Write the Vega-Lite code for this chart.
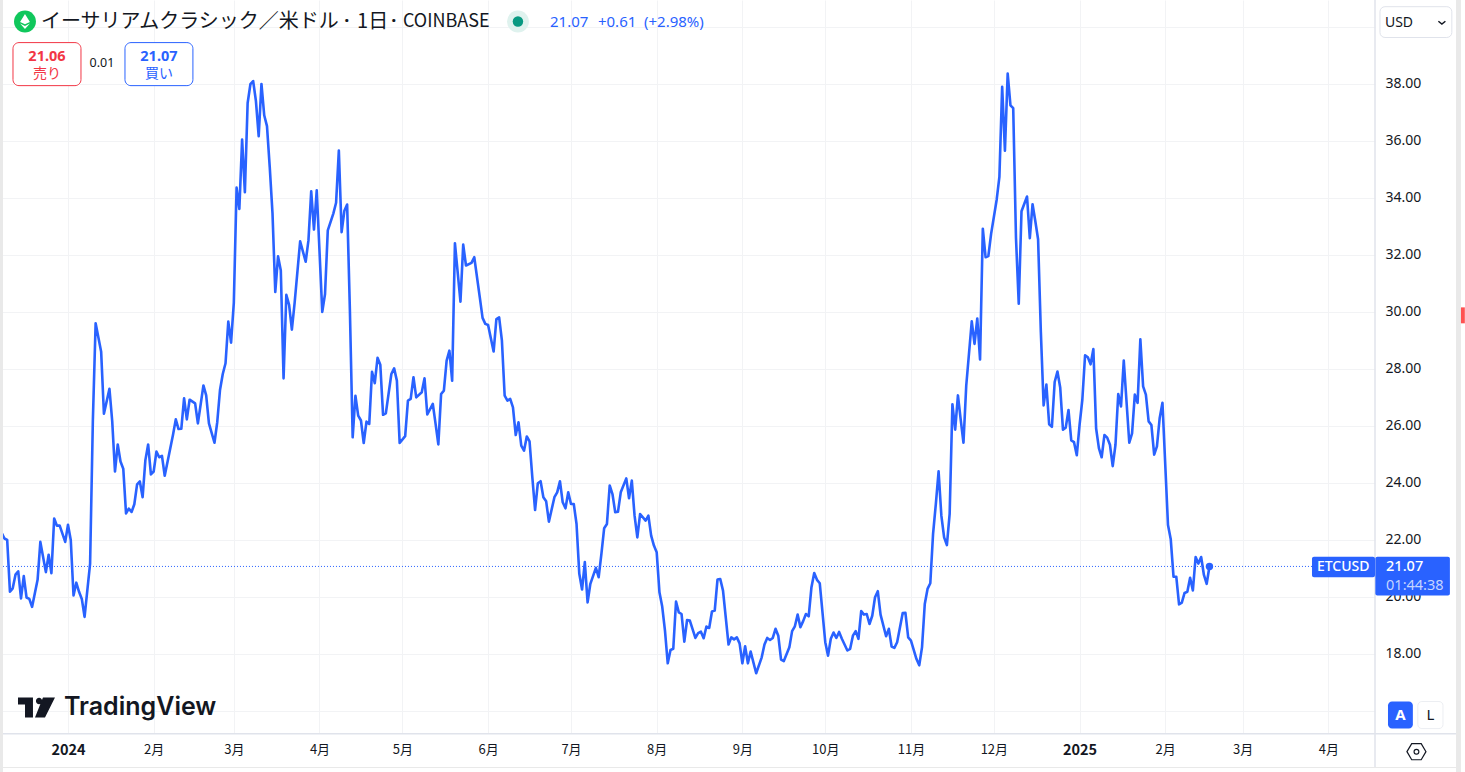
{
"$schema":"https://vega.github.io/schema/vega-lite/v6.json",
"width":1375,"height":733,
"autosize":{"type":"none"},
"padding":{"left":0,"top":0,"right":90,"bottom":39},
"background":"#ffffff",
"view":{"stroke":null},
"config":{"font":"Noto Sans"},
"datasets":{"prices":[
{"t":"2023-12-08","p":22.25},{"t":"2023-12-09","p":22.05},{"t":"2023-12-10","p":22.0},{"t":"2023-12-11","p":20.18},{"t":"2023-12-12","p":20.3},{"t":"2023-12-13","p":20.78},{"t":"2023-12-14","p":20.9},{"t":"2023-12-15","p":19.95},{"t":"2023-12-16","p":20.73},{"t":"2023-12-17","p":19.98},{"t":"2023-12-18","p":19.93},{"t":"2023-12-19","p":19.65},{"t":"2023-12-21","p":20.6},{"t":"2023-12-22","p":21.93},{"t":"2023-12-24","p":20.87},{"t":"2023-12-25","p":21.48},{"t":"2023-12-26","p":20.83},{"t":"2023-12-27","p":22.75},{"t":"2023-12-28","p":22.5},{"t":"2023-12-29","p":22.5},{"t":"2023-12-31","p":21.93},
{"t":"2024-01-01","p":22.53},{"t":"2024-01-02","p":22.0},{"t":"2024-01-03","p":20.05},{"t":"2024-01-04","p":20.5},{"t":"2024-01-05","p":20.18},{"t":"2024-01-06","p":19.93},{"t":"2024-01-07","p":19.3},{"t":"2024-01-09","p":21.17},{"t":"2024-01-10","p":26.2},{"t":"2024-01-11","p":29.6},{"t":"2024-01-13","p":28.6},{"t":"2024-01-14","p":26.43},{"t":"2024-01-16","p":27.3},{"t":"2024-01-17","p":26.17},{"t":"2024-01-18","p":24.4},{"t":"2024-01-19","p":25.35},{"t":"2024-01-20","p":24.75},{"t":"2024-01-21","p":24.5},{"t":"2024-01-22","p":22.93},{"t":"2024-01-23","p":23.1},{"t":"2024-01-24","p":22.98},{"t":"2024-01-25","p":23.25},{"t":"2024-01-26","p":23.95},{"t":"2024-01-27","p":24.05},{"t":"2024-01-28","p":23.5},{"t":"2024-01-29","p":24.8},{"t":"2024-01-30","p":25.35},{"t":"2024-01-31","p":24.3},
{"t":"2024-02-01","p":24.4},{"t":"2024-02-02","p":25.1},{"t":"2024-02-03","p":24.9},{"t":"2024-02-04","p":24.95},{"t":"2024-02-05","p":24.25},{"t":"2024-02-08","p":25.69},{"t":"2024-02-09","p":26.23},{"t":"2024-02-10","p":25.89},{"t":"2024-02-11","p":25.9},{"t":"2024-02-12","p":26.97},{"t":"2024-02-13","p":26.23},{"t":"2024-02-14","p":26.92},{"t":"2024-02-16","p":26.79},{"t":"2024-02-17","p":26.09},{"t":"2024-02-19","p":27.42},{"t":"2024-02-20","p":27.07},{"t":"2024-02-21","p":26.09},{"t":"2024-02-23","p":25.41},{"t":"2024-02-24","p":26.13},{"t":"2024-02-25","p":27.26},{"t":"2024-02-26","p":27.82},{"t":"2024-02-27","p":28.2},{"t":"2024-02-28","p":29.66},{"t":"2024-02-29","p":28.92},
{"t":"2024-03-01","p":30.32},{"t":"2024-03-02","p":34.36},{"t":"2024-03-03","p":33.61},{"t":"2024-03-04","p":36.05},{"t":"2024-03-05","p":34.2},{"t":"2024-03-06","p":37.33},{"t":"2024-03-07","p":37.99},{"t":"2024-03-08","p":38.1},{"t":"2024-03-09","p":37.4},{"t":"2024-03-10","p":36.17},{"t":"2024-03-11","p":38.0},{"t":"2024-03-12","p":36.9},{"t":"2024-03-13","p":36.52},{"t":"2024-03-14","p":35.08},{"t":"2024-03-15","p":33.45},{"t":"2024-03-16","p":30.7},{"t":"2024-03-17","p":31.95},{"t":"2024-03-18","p":31.45},{"t":"2024-03-19","p":27.67},{"t":"2024-03-20","p":30.6},{"t":"2024-03-21","p":30.25},{"t":"2024-03-22","p":29.38},{"t":"2024-03-23","p":30.32},{"t":"2024-03-25","p":32.48},{"t":"2024-03-27","p":31.76},{"t":"2024-03-28","p":32.51},{"t":"2024-03-29","p":34.23},{"t":"2024-03-30","p":32.89},{"t":"2024-03-31","p":34.27},
{"t":"2024-04-02","p":30.0},{"t":"2024-04-03","p":30.63},{"t":"2024-04-04","p":32.86},{"t":"2024-04-06","p":33.45},{"t":"2024-04-07","p":33.83},{"t":"2024-04-08","p":35.66},{"t":"2024-04-09","p":32.8},{"t":"2024-04-10","p":33.55},{"t":"2024-04-11","p":33.77},{"t":"2024-04-12","p":30.05},{"t":"2024-04-13","p":25.6},{"t":"2024-04-14","p":27.06},{"t":"2024-04-15","p":26.36},{"t":"2024-04-16","p":26.19},{"t":"2024-04-17","p":25.4},{"t":"2024-04-18","p":26.15},{"t":"2024-04-19","p":26.07},{"t":"2024-04-20","p":27.9},{"t":"2024-04-21","p":27.5},{"t":"2024-04-22","p":28.39},{"t":"2024-04-23","p":28.15},{"t":"2024-04-24","p":26.39},{"t":"2024-04-25","p":26.44},{"t":"2024-04-27","p":27.82},{"t":"2024-04-28","p":28.02},{"t":"2024-04-29","p":27.59},{"t":"2024-04-30","p":25.4},
{"t":"2024-05-02","p":25.64},{"t":"2024-05-03","p":26.89},{"t":"2024-05-04","p":26.95},{"t":"2024-05-05","p":27.71},{"t":"2024-05-06","p":27.0},{"t":"2024-05-08","p":27.18},{"t":"2024-05-09","p":27.67},{"t":"2024-05-10","p":26.4},{"t":"2024-05-12","p":26.77},{"t":"2024-05-13","p":26.07},{"t":"2024-05-14","p":25.35},{"t":"2024-05-15","p":27.12},{"t":"2024-05-16","p":27.24},{"t":"2024-05-17","p":28.29},{"t":"2024-05-18","p":28.64},{"t":"2024-05-19","p":27.59},{"t":"2024-05-20","p":32.41},{"t":"2024-05-22","p":30.36},{"t":"2024-05-23","p":32.36},{"t":"2024-05-24","p":31.63},{"t":"2024-05-26","p":31.72},{"t":"2024-05-27","p":31.92},{"t":"2024-05-29","p":30.51},{"t":"2024-05-30","p":29.79},{"t":"2024-05-31","p":29.58},
{"t":"2024-06-01","p":29.54},{"t":"2024-06-03","p":28.61},{"t":"2024-06-04","p":29.75},{"t":"2024-06-05","p":29.81},{"t":"2024-06-06","p":28.99},{"t":"2024-06-07","p":27.06},{"t":"2024-06-08","p":26.89},{"t":"2024-06-09","p":26.95},{"t":"2024-06-10","p":26.65},{"t":"2024-06-11","p":25.68},{"t":"2024-06-12","p":26.13},{"t":"2024-06-13","p":25.31},{"t":"2024-06-14","p":25.13},{"t":"2024-06-15","p":25.63},{"t":"2024-06-16","p":25.46},{"t":"2024-06-17","p":24.2},{"t":"2024-06-18","p":23.05},{"t":"2024-06-19","p":23.99},{"t":"2024-06-20","p":24.06},{"t":"2024-06-21","p":23.5},{"t":"2024-06-22","p":23.36},{"t":"2024-06-23","p":22.64},{"t":"2024-06-25","p":23.5},{"t":"2024-06-26","p":23.67},{"t":"2024-06-27","p":24.06},{"t":"2024-06-28","p":23.32},{"t":"2024-06-29","p":23.11},{"t":"2024-06-30","p":23.67},
{"t":"2024-07-01","p":23.26},{"t":"2024-07-02","p":23.26},{"t":"2024-07-03","p":22.56},{"t":"2024-07-04","p":20.81},{"t":"2024-07-05","p":20.26},{"t":"2024-07-06","p":21.22},{"t":"2024-07-07","p":19.81},{"t":"2024-07-08","p":20.46},{"t":"2024-07-10","p":21.02},{"t":"2024-07-11","p":20.69},{"t":"2024-07-12","p":21.51},{"t":"2024-07-13","p":22.41},{"t":"2024-07-14","p":22.56},{"t":"2024-07-15","p":23.91},{"t":"2024-07-16","p":23.61},{"t":"2024-07-17","p":22.97},{"t":"2024-07-18","p":22.99},{"t":"2024-07-19","p":23.67},{"t":"2024-07-21","p":24.16},{"t":"2024-07-22","p":23.46},{"t":"2024-07-23","p":24.08},{"t":"2024-07-24","p":22.85},{"t":"2024-07-25","p":22.09},{"t":"2024-07-26","p":22.91},{"t":"2024-07-28","p":22.68},{"t":"2024-07-29","p":22.85},{"t":"2024-07-30","p":22.15},{"t":"2024-07-31","p":21.8},
{"t":"2024-08-01","p":21.57},{"t":"2024-08-02","p":20.16},{"t":"2024-08-03","p":19.66},{"t":"2024-08-04","p":18.82},{"t":"2024-08-05","p":17.67},{"t":"2024-08-06","p":18.14},{"t":"2024-08-07","p":18.18},{"t":"2024-08-08","p":19.84},{"t":"2024-08-09","p":19.46},{"t":"2024-08-10","p":19.4},{"t":"2024-08-11","p":18.43},{"t":"2024-08-12","p":19.19},{"t":"2024-08-13","p":19.17},{"t":"2024-08-15","p":18.56},{"t":"2024-08-16","p":18.73},{"t":"2024-08-17","p":18.78},{"t":"2024-08-18","p":18.55},{"t":"2024-08-19","p":18.96},{"t":"2024-08-20","p":18.91},{"t":"2024-08-21","p":19.49},{"t":"2024-08-22","p":19.52},{"t":"2024-08-23","p":20.61},{"t":"2024-08-24","p":20.63},{"t":"2024-08-25","p":20.22},{"t":"2024-08-27","p":18.33},{"t":"2024-08-28","p":18.58},{"t":"2024-08-29","p":18.51},{"t":"2024-08-30","p":18.58},{"t":"2024-08-31","p":18.37},
{"t":"2024-09-01","p":17.67},{"t":"2024-09-02","p":18.27},{"t":"2024-09-03","p":17.67},{"t":"2024-09-04","p":18.08},{"t":"2024-09-06","p":17.32},{"t":"2024-09-08","p":17.88},{"t":"2024-09-09","p":18.33},{"t":"2024-09-10","p":18.56},{"t":"2024-09-11","p":18.49},{"t":"2024-09-12","p":18.56},{"t":"2024-09-13","p":18.88},{"t":"2024-09-14","p":18.64},{"t":"2024-09-15","p":17.8},{"t":"2024-09-16","p":17.75},{"t":"2024-09-18","p":18.23},{"t":"2024-09-19","p":18.8},{"t":"2024-09-20","p":18.97},{"t":"2024-09-21","p":19.38},{"t":"2024-09-22","p":18.94},{"t":"2024-09-23","p":19.15},{"t":"2024-09-24","p":19.4},{"t":"2024-09-25","p":19.32},{"t":"2024-09-26","p":20.34},{"t":"2024-09-27","p":20.84},{"t":"2024-09-28","p":20.6},{"t":"2024-09-29","p":20.48},
{"t":"2024-10-01","p":18.41},{"t":"2024-10-02","p":17.94},{"t":"2024-10-03","p":18.53},{"t":"2024-10-04","p":18.75},{"t":"2024-10-05","p":18.56},{"t":"2024-10-06","p":18.77},{"t":"2024-10-07","p":18.53},{"t":"2024-10-09","p":18.12},{"t":"2024-10-10","p":18.18},{"t":"2024-10-11","p":18.64},{"t":"2024-10-12","p":18.8},{"t":"2024-10-13","p":18.53},{"t":"2024-10-14","p":19.5},{"t":"2024-10-15","p":19.38},{"t":"2024-10-16","p":19.4},{"t":"2024-10-17","p":19.05},{"t":"2024-10-18","p":19.34},{"t":"2024-10-19","p":19.99},{"t":"2024-10-20","p":20.2},{"t":"2024-10-21","p":19.38},{"t":"2024-10-23","p":18.62},{"t":"2024-10-24","p":18.88},{"t":"2024-10-25","p":18.26},{"t":"2024-10-26","p":18.21},{"t":"2024-10-27","p":18.41},{"t":"2024-10-29","p":19.43},{"t":"2024-10-30","p":19.44},{"t":"2024-10-31","p":18.58},
{"t":"2024-11-01","p":18.47},{"t":"2024-11-03","p":17.82},{"t":"2024-11-04","p":17.6},{"t":"2024-11-05","p":18.23},{"t":"2024-11-06","p":19.75},{"t":"2024-11-07","p":20.28},{"t":"2024-11-08","p":20.48},{"t":"2024-11-09","p":22.21},{"t":"2024-11-10","p":23.26},{"t":"2024-11-11","p":24.41},{"t":"2024-11-12","p":22.85},{"t":"2024-11-13","p":22.09},{"t":"2024-11-14","p":21.82},{"t":"2024-11-15","p":22.91},{"t":"2024-11-16","p":26.76},{"t":"2024-11-17","p":25.87},{"t":"2024-11-18","p":27.07},{"t":"2024-11-19","p":26.22},{"t":"2024-11-20","p":25.41},{"t":"2024-11-21","p":27.41},{"t":"2024-11-23","p":29.67},{"t":"2024-11-24","p":28.88},{"t":"2024-11-25","p":29.77},{"t":"2024-11-26","p":28.33},{"t":"2024-11-27","p":32.92},{"t":"2024-11-28","p":31.92},{"t":"2024-11-29","p":31.96},{"t":"2024-11-30","p":32.74},
{"t":"2024-12-02","p":33.93},{"t":"2024-12-03","p":34.74},{"t":"2024-12-04","p":37.9},{"t":"2024-12-05","p":35.66},{"t":"2024-12-06","p":38.36},{"t":"2024-12-07","p":37.25},{"t":"2024-12-08","p":37.15},{"t":"2024-12-09","p":32.6},{"t":"2024-12-10","p":30.29},{"t":"2024-12-11","p":33.53},{"t":"2024-12-13","p":34.05},{"t":"2024-12-14","p":32.59},{"t":"2024-12-15","p":33.78},{"t":"2024-12-16","p":33.18},{"t":"2024-12-17","p":32.55},{"t":"2024-12-18","p":29.29},{"t":"2024-12-19","p":26.72},{"t":"2024-12-20","p":27.45},{"t":"2024-12-21","p":26.06},{"t":"2024-12-22","p":25.97},{"t":"2024-12-23","p":27.54},{"t":"2024-12-24","p":27.91},{"t":"2024-12-25","p":27.35},{"t":"2024-12-26","p":25.87},{"t":"2024-12-27","p":25.94},{"t":"2024-12-28","p":26.56},{"t":"2024-12-29","p":25.49},{"t":"2024-12-30","p":25.43},{"t":"2024-12-31","p":24.97},
{"t":"2025-01-01","p":26.03},{"t":"2025-01-02","p":26.91},{"t":"2025-01-03","p":28.48},{"t":"2025-01-04","p":28.41},{"t":"2025-01-05","p":28.16},{"t":"2025-01-06","p":28.7},{"t":"2025-01-07","p":25.91},{"t":"2025-01-08","p":25.22},{"t":"2025-01-09","p":24.9},{"t":"2025-01-10","p":25.68},{"t":"2025-01-11","p":25.59},{"t":"2025-01-12","p":25.34},{"t":"2025-01-13","p":24.59},{"t":"2025-01-14","p":25.34},{"t":"2025-01-15","p":27.12},{"t":"2025-01-16","p":26.68},{"t":"2025-01-17","p":28.29},{"t":"2025-01-19","p":25.41},{"t":"2025-01-20","p":25.74},{"t":"2025-01-21","p":27.1},{"t":"2025-01-22","p":26.81},{"t":"2025-01-23","p":29.04},{"t":"2025-01-24","p":27.39},{"t":"2025-01-25","p":27.1},{"t":"2025-01-26","p":26.16},{"t":"2025-01-27","p":26.03},{"t":"2025-01-28","p":24.99},{"t":"2025-01-29","p":25.28},{"t":"2025-01-30","p":26.28},{"t":"2025-01-31","p":26.81},
{"t":"2025-02-02","p":22.52},{"t":"2025-02-03","p":22.02},{"t":"2025-02-04","p":20.71},{"t":"2025-02-05","p":20.71},{"t":"2025-02-06","p":19.74},{"t":"2025-02-07","p":19.8},{"t":"2025-02-08","p":20.14},{"t":"2025-02-09","p":20.18},{"t":"2025-02-10","p":20.67},{"t":"2025-02-11","p":20.23},{"t":"2025-02-12","p":21.4},{"t":"2025-02-13","p":21.17},{"t":"2025-02-14","p":21.4},{"t":"2025-02-15","p":20.77},{"t":"2025-02-16","p":20.46},{"t":"2025-02-17","p":21.07}
]},
"encoding":{
 "x":{"field":"t","type":"temporal","scale":{"type":"utc","domain":["2023-12-07T09:36:00Z","2025-04-17T21:36:00Z"]},
  "axis":{"title":null,"orient":"bottom","domain":false,"ticks":false,"grid":true,"gridColor":"#f2f3f5","gridWidth":1,
   "values":["2024-01-01","2024-02-01","2024-03-01","2024-04-01","2024-05-01","2024-06-01","2024-07-01","2024-08-01","2024-09-01","2024-10-01","2024-11-01","2024-12-01","2025-01-01","2025-02-01","2025-03-01","2025-04-01"],
   "labelExpr":"utcmonth(datum.value)==0 ? ''+utcyear(datum.value) : (utcmonth(datum.value)+1)+'月'",
   "labelFont":"Noto Sans CJK JP","labelColor":"#131722","labelPadding":10,"labelAngle":0,"labelOverlap":false,"labelFlush":false,"labelBound":false,
   "labelFontSize":{"condition":{"test":"utcmonth(datum.value)==0","value":14.5},"value":13},
   "labelFontWeight":{"condition":{"test":"utcmonth(datum.value)==0","value":"bold"},"value":"normal"}}},
 "y":{"field":"p","type":"quantitative","scale":{"domain":[15.225,40.945],"nice":false,"zero":false},
  "axis":{"title":null,"orient":"right","domain":false,"ticks":false,"grid":true,"gridColor":"#f2f3f5","gridWidth":1,
   "values":[16,18,20,22,24,26,28,30,32,34,36,38,40],
   "labelExpr":"datum.value<17||datum.value>39 ? '' : format(datum.value,'.2f')",
   "labelFont":"Noto Sans","labelFontSize":14,"labelColor":"#131722","labelPadding":10,"labelAlign":"left","labelOverlap":false,"labelFlush":false,"labelBound":false}}
},
"layer":[
 {"data":{"name":"prices"},"mark":{"type":"line","color":"#2962ff","strokeWidth":2.6,"interpolate":"linear","strokeJoin":"round","clip":false}},
 {"data":{"values":[{"t":"2025-02-17","p":21.07}]},"mark":{"type":"point","filled":true,"color":"#2962ff","size":55,"opacity":1}},
 {"data":{"values":[{"t":"2023-12-08T11:30:00Z","t2":"2025-03-26T02:24:00Z","p":21.07}]},"mark":{"type":"rule","color":"#2962ff","strokeWidth":1,"strokeDash":[1,2]},"encoding":{"x2":{"field":"t2"}}},
 {"data":{"values":[{"t":"2023-12-08T11:30:00Z","t2":"2025-05-17T04:48:00Z","p":15.2}]},"mark":{"type":"rule","color":"#e0e3eb","strokeWidth":1.5},"encoding":{"x2":{"field":"t2"}}},
 {"data":{"values":[{"t":"2025-04-17T21:36:00Z","p":14.03,"p2":40.945}]},"mark":{"type":"rule","color":"#e0e3eb","strokeWidth":1.5},"encoding":{"y2":{"field":"p2"}}},
 {"data":{"values":[{"t":"2023-12-08T11:30:00Z","t2":"2025-05-17T04:48:00Z","p":14.015}]},"mark":{"type":"rule","color":"#e9e9e9","strokeWidth":1},"encoding":{"x2":{"field":"t2"}}},
 {"data":{"values":[{"t":"2023-12-07T09:36:00Z","t2":"2023-12-08T11:30:00Z","p":13.8,"p2":40.945},{"t":"2025-05-17T04:48:00Z","t2":"2025-05-19T00:00:00Z","p":13.8,"p2":40.945}]},"mark":{"type":"rect","fill":"#e9e9e9"},"encoding":{"x2":{"field":"t2"},"y2":{"field":"p2"}}},
 {"data":{"values":[{"t":"2025-05-19T00:00:00Z","t2":"2025-05-20T09:36:00Z","p":29.6,"p2":30.16}]},"mark":{"type":"rect","fill":"#ff5252"},"encoding":{"x2":{"field":"t2"},"y2":{"field":"p2"}}},

 {"data":{"values":[{"t":"2023-12-16T10:30:00Z","p":40.19}]},"mark":{"type":"point","filled":true,"color":"#10c75c","size":480,"opacity":1}},
 {"data":{"values":[{"t":"2023-12-16T10:30:00Z","p":40.19}]},"mark":{"type":"point","shape":"M0 -1L0.65 0.05L0 0.35L-0.65 0.05ZM-0.65 0.25L0 0.6L0.65 0.25L0 1Z","filled":true,"color":"#ffffff","size":230,"opacity":1}},
 {"data":{"values":[{"t":"2023-12-22T05:30:00Z","p":40.19,"s":"イーサリアムクラシック／米ドル"}]},"mark":{"type":"text","align":"left","baseline":"middle","font":"Noto Sans CJK JP","fontSize":20,"color":"#131722"},"encoding":{"text":{"field":"s"}}},
 {"data":{"values":[{"t":"2024-04-10T21:36:00Z","p":40.19,"s":"·"},{"t":"2024-04-27T21:36:00Z","p":40.19,"s":"·"}]},"mark":{"type":"text","align":"center","baseline":"middle","font":"Noto Sans","fontWeight":"bold","fontSize":18,"color":"#131722"},"encoding":{"text":{"field":"s"}}},
 {"data":{"values":[{"t":"2024-04-14T14:00:00Z","p":40.19,"s":"1日"}]},"mark":{"type":"text","align":"left","baseline":"middle","font":"Noto Sans CJK JP","fontSize":20,"color":"#131722"},"encoding":{"text":{"field":"s"}}},
 {"data":{"values":[{"t":"2024-05-01T04:48:00Z","p":40.19,"s":"COINBASE"}]},"mark":{"type":"text","align":"left","baseline":"middle","font":"Noto Sans CJK JP","fontSize":18,"color":"#131722"},"encoding":{"text":{"field":"s"}}},
 {"data":{"values":[{"t":"2024-06-11T19:12:00Z","p":40.19}]},"mark":{"type":"point","filled":true,"color":"#dff2ee","size":480,"opacity":1}},
 {"data":{"values":[{"t":"2024-06-11T19:12:00Z","p":40.19}]},"mark":{"type":"point","filled":true,"color":"#089981","size":110,"opacity":1}},
 {"data":{"values":[{"t":"2024-06-23T09:36:00Z","p":40.19,"s":"21.07"},{"t":"2024-07-10T18:00:00Z","p":40.19,"s":"+0.61"},{"t":"2024-07-27T09:36:00Z","p":40.19,"s":"(+2.98%)"}]},"mark":{"type":"text","align":"left","baseline":"middle","font":"Noto Sans","fontSize":15,"color":"#2962ff"},"encoding":{"text":{"field":"s"}}},

 {"data":{"values":[{"t":"2023-12-12T02:24:00Z","t2":"2024-01-05T16:48:00Z","p":37.94,"p2":39.45}]},"mark":{"type":"rect","fill":"#ffffff","stroke":"#f23645","strokeWidth":1,"cornerRadius":6},"encoding":{"x2":{"field":"t2"},"y2":{"field":"p2"}}},
 {"data":{"values":[{"t":"2024-01-21T14:53:00Z","t2":"2024-02-15T04:48:00Z","p":37.94,"p2":39.45}]},"mark":{"type":"rect","fill":"#ffffff","stroke":"#2962ff","strokeWidth":1,"cornerRadius":6},"encoding":{"x2":{"field":"t2"},"y2":{"field":"p2"}}},
 {"data":{"values":[{"t":"2023-12-24T09:36:00Z","p":38.96,"s":"21.06"}]},"mark":{"type":"text","align":"center","baseline":"middle","font":"Noto Sans","fontWeight":"bold","fontSize":14.5,"color":"#f23645"},"encoding":{"text":{"field":"s"}}},
 {"data":{"values":[{"t":"2023-12-24T09:36:00Z","p":38.36,"s":"売り"}]},"mark":{"type":"text","align":"center","baseline":"middle","font":"Noto Sans CJK JP","fontSize":14,"color":"#f23645"},"encoding":{"text":{"field":"s"}}},
 {"data":{"values":[{"t":"2024-02-02T21:36:00Z","p":38.96,"s":"21.07"}]},"mark":{"type":"text","align":"center","baseline":"middle","font":"Noto Sans","fontWeight":"bold","fontSize":14.5,"color":"#2962ff"},"encoding":{"text":{"field":"s"}}},
 {"data":{"values":[{"t":"2024-02-02T21:36:00Z","p":38.36,"s":"買い"}]},"mark":{"type":"text","align":"center","baseline":"middle","font":"Noto Sans CJK JP","fontSize":14,"color":"#2962ff"},"encoding":{"text":{"field":"s"}}},
 {"data":{"values":[{"t":"2024-01-13T07:12:00Z","p":38.75,"s":"0.01"}]},"mark":{"type":"text","align":"center","baseline":"middle","font":"Noto Sans","fontSize":12.5,"color":"#131722"},"encoding":{"text":{"field":"s"}}},

 {"data":{"values":[{"t":"2025-04-19T16:48:00Z","t2":"2025-05-15T16:48:00Z","p":39.63,"p2":40.71}]},"mark":{"type":"rect","fill":"#ffffff","stroke":"#e0e3eb","strokeWidth":1,"cornerRadius":5},"encoding":{"x2":{"field":"t2"},"y2":{"field":"p2"}}},
 {"data":{"values":[{"t":"2025-04-21T12:00:00Z","p":40.15,"s":"USD"}]},"mark":{"type":"text","align":"left","baseline":"middle","font":"Noto Sans","fontSize":14,"color":"#131722"},"encoding":{"text":{"field":"s"}}},
 {"data":{"values":[{"t":"2025-05-12T02:24:00Z","p":40.15}]},"mark":{"type":"point","shape":"M-1 -0.4L0 0.4L1 -0.4","filled":false,"color":"#131722","strokeWidth":1.5,"size":49,"opacity":1}},

 {"data":{"values":[{"t":"2025-03-26T02:24:00Z","t2":"2025-04-17T21:36:00Z","p":20.69,"p2":21.41}]},"mark":{"type":"rect","fill":"#2962ff","cornerRadius":2},"encoding":{"x2":{"field":"t2"},"y2":{"field":"p2"}}},
 {"data":{"values":[{"t":"2025-04-18T00:30:00Z","t2":"2025-05-15T00:00:00Z","p":20.05,"p2":21.41}]},"mark":{"type":"rect","fill":"#2962ff","cornerRadius":2},"encoding":{"x2":{"field":"t2"},"y2":{"field":"p2"}}},
 {"data":{"values":[{"t":"2025-03-27T21:36:00Z","p":21.06,"s":"ETCUSD"}]},"mark":{"type":"text","align":"left","baseline":"middle","font":"Noto Sans","fontWeight":500,"fontSize":14,"color":"#ffffff"},"encoding":{"text":{"field":"s"}}},
 {"data":{"values":[{"t":"2025-04-21T21:36:00Z","p":21.06,"s":"21.07"}]},"mark":{"type":"text","align":"left","baseline":"middle","font":"Noto Sans","fontWeight":500,"fontSize":14.5,"color":"#ffffff"},"encoding":{"text":{"field":"s"}}},
 {"data":{"values":[{"t":"2025-04-21T21:36:00Z","p":20.40,"s":"01:44:38"}]},"mark":{"type":"text","align":"left","baseline":"middle","font":"Noto Sans","fontSize":14.5,"color":"#c5d4ff"},"encoding":{"text":{"field":"s"}}},

 {"data":{"values":[{"t":"2025-04-22T14:24:00Z","t2":"2025-05-01T14:24:00Z","p":15.38,"p2":16.33}]},"mark":{"type":"rect","fill":"#2962ff","cornerRadius":4},"encoding":{"x2":{"field":"t2"},"y2":{"field":"p2"}}},
 {"data":{"values":[{"t":"2025-05-03T09:36:00Z","t2":"2025-05-12T12:00:00Z","p":15.38,"p2":16.33}]},"mark":{"type":"rect","fill":"#ffffff","stroke":"#eceef2","strokeWidth":1,"cornerRadius":4},"encoding":{"x2":{"field":"t2"},"y2":{"field":"p2"}}},
 {"data":{"values":[{"t":"2025-04-27T02:24:00Z","p":15.85,"s":"A"}]},"mark":{"type":"text","align":"center","baseline":"middle","font":"Noto Sans","fontWeight":"bold","fontSize":15,"color":"#ffffff"},"encoding":{"text":{"field":"s"}}},
 {"data":{"values":[{"t":"2025-05-08T00:00:00Z","p":15.85,"s":"L"}]},"mark":{"type":"text","align":"center","baseline":"middle","font":"Noto Sans","fontSize":15,"color":"#131722"},"encoding":{"text":{"field":"s"}}},
 {"data":{"values":[{"t":"2025-05-02T21:36:00Z","p":14.57}]},"mark":{"type":"point","shape":"M-1 0L-0.5 -0.85L0.5 -0.85L1 0L0.5 0.85L-0.5 0.85ZM-0.25 0A0.25 0.25 0 1 1 0.25 0A0.25 0.25 0 1 1 -0.25 0Z","filled":false,"color":"#131722","strokeWidth":1.2,"size":361,"opacity":1}},

 {"data":{"values":[{"t":"2023-12-20T14:24:00Z","p":16.12}]},"mark":{"type":"point","shape":"M-1 -0.54L-0.19 -0.54L-0.19 0.54L-0.62 0.54L-0.62 -0.16L-1 -0.16ZM0.35 -0.54L1 -0.54L0.46 0.54L-0.08 0.54ZM-0.03 -0.35A0.17 0.17 0 1 1 0.31 -0.35A0.17 0.17 0 1 1 -0.03 -0.35Z","filled":true,"color":"#131722","size":1369,"opacity":1}},
 {"data":{"values":[{"t":"2023-12-30T13:12:00Z","p":16.12,"s":"TradingView"}]},"mark":{"type":"text","align":"left","baseline":"middle","font":"Inter","fontWeight":600,"fontSize":25,"color":"#131722"},"encoding":{"text":{"field":"s"}}}
]
}
